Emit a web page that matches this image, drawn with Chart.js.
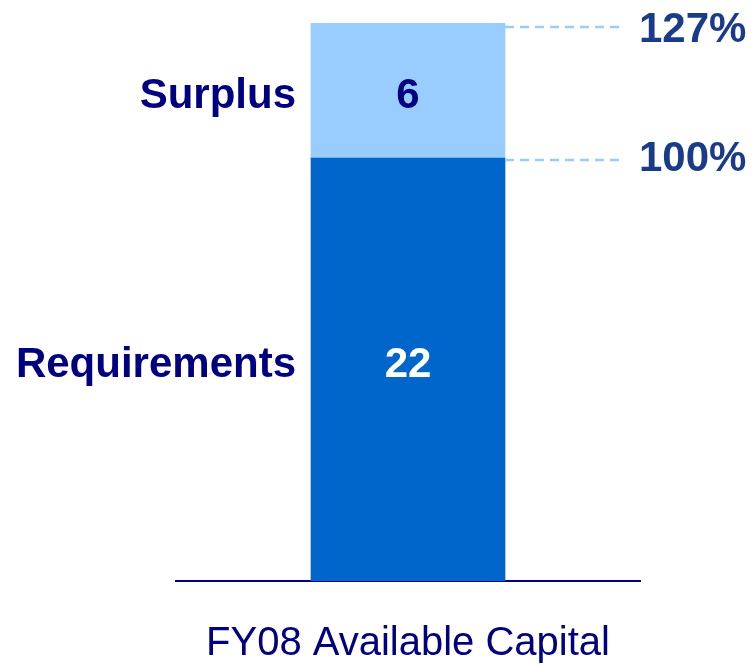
<!DOCTYPE html>
<html>
<head>
<meta charset="utf-8">
<script src="https://cdn.jsdelivr.net/npm/chart.js@4"></script>
<style>
  html, body { margin: 0; padding: 0; background: #fff; }
  #wrap { width: 754px; height: 667px; }
</style>
</head>
<body>
<div id="wrap"><canvas id="capChart" width="754" height="667"></canvas></div>
<script>
/* data */
const categories = ['FY08 Available Capital'];
const seriesNames = ['Requirements', 'Surplus'];
const requirements = [22];
const surplus = [6];
const percentLabels = ['100%', '127%'];

const NAVY = '#000080';
const PCT_BLUE = '#1a3a8a';
const DARK_BAR = '#0066cc';
const LIGHT_BAR = '#99ccff';

/* labels, dashed guides and category title */
const labelPlugin = {
    id: 'labelPlugin',
    afterDatasetsDraw(chart) {
        const ctx = chart.ctx;
        const y = chart.scales.y;
        const area = chart.chartArea;
        const bar = chart.getDatasetMeta(0).data[0];
        const left = bar.x - bar.width / 2;
        const right = bar.x + bar.width / 2;

        const reqTop = y.getPixelForValue(requirements[0]);
        const total = y.getPixelForValue(requirements[0] + surplus[0]);
        const base = area.bottom;
        const midSur = (total + reqTop) / 2 + 6;
        const midReq = (reqTop + base) / 2 - 4;

        ctx.save();
        ctx.font = 'bold 42px "Liberation Sans", Arial, sans-serif';
        ctx.textBaseline = 'middle';

        // series names at left of the bar
        ctx.fillStyle = NAVY;
        ctx.textAlign = 'right';
        ctx.fillText(seriesNames[1], left - 15, midSur);
        ctx.fillText(seriesNames[0], left - 15, midReq);

        // values inside the bar
        ctx.textAlign = 'center';
        ctx.fillStyle = NAVY;
        ctx.fillText(String(surplus[0]), bar.x, midSur);
        ctx.fillStyle = '#ffffff';
        ctx.fillText(String(requirements[0]), bar.x, midReq);

        // dashed guide lines
        ctx.strokeStyle = LIGHT_BAR;
        ctx.lineWidth = 2.5;
        ctx.setLineDash([9, 6]);
        [total + 4, reqTop + 2].forEach(py => {
            ctx.beginPath();
            ctx.moveTo(right, py);
            ctx.lineTo(right + 118, py);
            ctx.stroke();
        });
        ctx.setLineDash([]);

        // percentages
        ctx.fillStyle = PCT_BLUE;
        ctx.textAlign = 'left';
        ctx.fillText(percentLabels[1], right + 134, total + 7);
        ctx.fillText(percentLabels[0], right + 134, reqTop + 1);

        // category title under the axis
        ctx.fillStyle = NAVY;
        ctx.textAlign = 'center';
        ctx.font = '40px "Liberation Sans", Arial, sans-serif';
        ctx.fillText(categories[0], (area.left + area.right) / 2, 644);
        ctx.restore();
    }
};

new Chart(document.getElementById('capChart'), {
    type: 'bar',
    data: {
        labels: categories,
        datasets: [
            {
                label: seriesNames[0],
                data: requirements,
                backgroundColor: DARK_BAR,
                borderWidth: 0,
                barThickness: 194
            },
            {
                label: seriesNames[1],
                data: surplus,
                backgroundColor: LIGHT_BAR,
                borderWidth: 0,
                barThickness: 194
            }
        ]
    },
    options: {
        responsive: false,
        animation: false,
        layout: { padding: { left: 176, right: 114, top: 23, bottom: 78 } },
        plugins: {
            legend: { display: false },
            tooltip: { enabled: false },
            title: { display: false }
        },
        scales: {
            x: {
                stacked: true,
                grid: { display: false },
                ticks: { display: false },
                border: { display: true, color: NAVY, width: 2 }
            },
            y: {
                stacked: true,
                display: false,
                min: 3.2,
                max: 28
            }
        }
    },
    plugins: [labelPlugin]
});
</script>
</body>
</html>
